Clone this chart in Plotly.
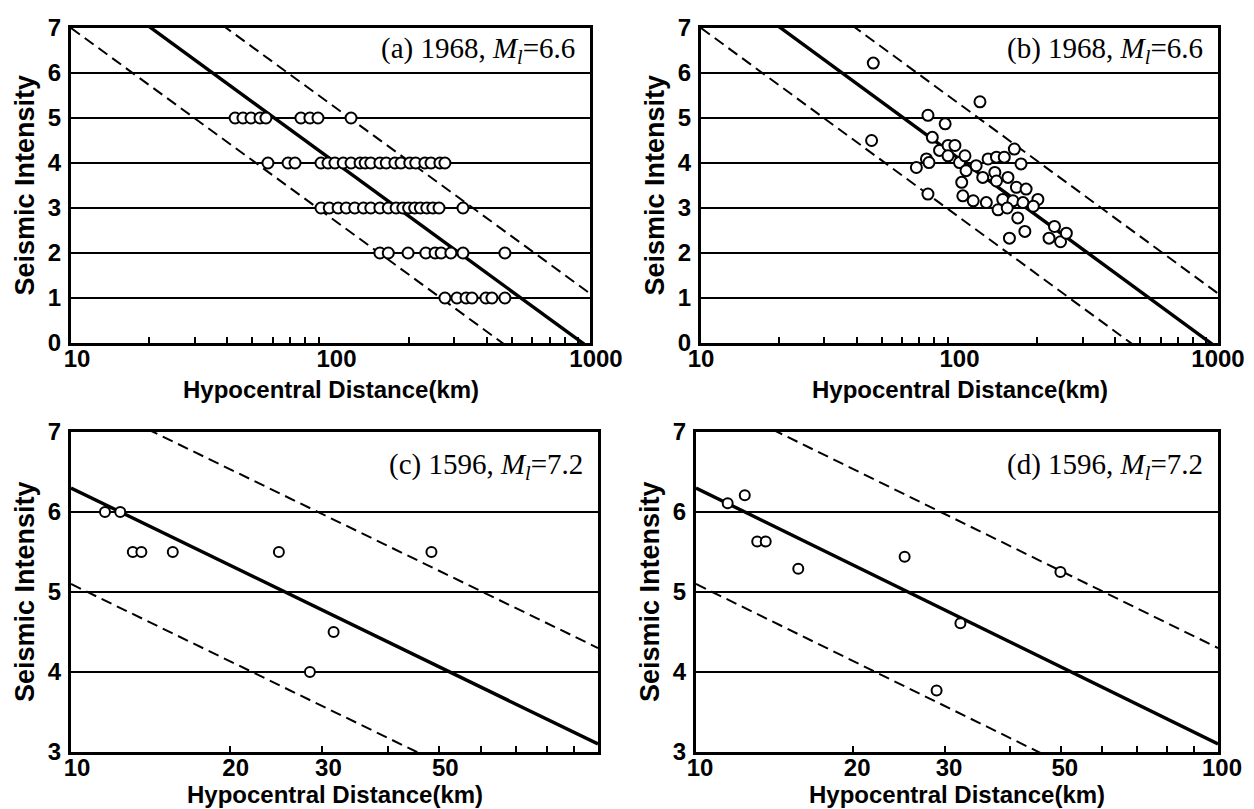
import plotly.graph_objects as go

# ---------------- data ----------------
# Panel (a): 1968, Ml=6.6 (intensity vs hypocentral distance, km)
A_DIST = [42.9, 46.0, 49.4, 53.5, 56.4, 76.9, 83.3, 89.5, 120,
          57.4, 68.6, 73.0, 91.9, 97.8, 104, 112, 120, 130, 136, 143, 155, 164, 177, 187, 202, 213, 231, 244, 264, 276,
          91.9, 98.9, 107, 115, 124, 134, 143, 155, 167, 179, 190, 200, 211, 222, 235, 248, 262, 324,
          155, 167, 199, 233, 253, 267, 291, 324, 470,
          276, 307, 333, 351, 397, 419, 470]
A_INT = [5, 5, 5, 5, 5, 5, 5, 5, 5,
         4, 4, 4, 4, 4, 4, 4, 4, 4, 4, 4, 4, 4, 4, 4, 4, 4, 4, 4, 4, 4,
         3, 3, 3, 3, 3, 3, 3, 3, 3, 3, 3, 3, 3, 3, 3, 3, 3, 3,
         2, 2, 2, 2, 2, 2, 2, 2, 2,
         1, 1, 1, 1, 1, 1, 1]

# Panel (b): 1968, Ml=6.6 (estimated intensities)
B_DIST = [46.4, 45.7, 75.5, 120, 88, 78.5, 83.7, 74.5, 76.2, 68.1, 75.5,
          90.3, 96, 90.3, 100, 105, 116, 129, 139, 149, 163, 173, 106, 102, 123, 137, 139, 154, 166, 181,
          103, 113, 127, 147, 161, 176, 201,
          141, 153, 168, 179, 156, 193, 233, 222, 246, 259]
B_INT = [6.22, 4.50, 5.06, 5.36, 4.87, 4.57, 4.28, 4.09, 4.01, 3.90, 3.31,
         4.39, 4.39, 4.16, 4.01, 4.16, 3.94, 4.09, 4.13, 4.13, 4.31, 3.98, 3.83, 3.57, 3.68, 3.79, 3.60, 3.68, 3.46, 3.42,
         3.27, 3.16, 3.12, 3.19, 3.16, 3.12, 3.19,
         2.96, 3.00, 2.78, 2.48, 2.33, 3.04, 2.59, 2.33, 2.25, 2.44]

# Panel (c): 1596, Ml=7.2
C_DIST = [11.6, 12.4, 13.1, 13.6, 15.6, 24.8, 48.3, 31.5, 28.4]
C_INT = [6.0, 6.0, 5.5, 5.5, 5.5, 5.5, 5.5, 4.5, 4.0]

# Panel (d): 1596, Ml=7.2
D_DIST = [11.5, 12.4, 13.1, 13.6, 15.7, 25.1, 49.9, 32.1, 28.9]
D_INT = [6.11, 6.21, 5.63, 5.63, 5.29, 5.44, 5.25, 4.61, 3.77]

# Attenuation lines (values at the ends of the distance range)
AB_LINE_DIST = [10, 1000]
AB_SOLID = [8.30, -0.12]
AB_UPPER = [9.52, 1.10]
AB_LOWER = [7.00, -1.42]

CD_LINE_DIST = [10, 100]
CD_SOLID = [6.30, 3.10]
CD_UPPER = [7.50, 4.30]
CD_LOWER = [5.10, 1.90]

AB_XTICKS = [10, 100, 1000]
AB_XMINOR = [20, 30, 40, 50, 60, 70, 80, 90, 200, 300, 400, 500, 600, 700, 800, 900]
C_XTICKS = [10, 20, 30, 50]
D_XTICKS = [10, 20, 30, 50, 100]
CD_XMINOR = [20, 30, 40, 50, 60, 70, 80, 90]

LABELS = ["(a) 1968, <i>M</i><sub><i>l</i></sub>=6.6",
          "(b) 1968, <i>M</i><sub><i>l</i></sub>=6.6",
          "(c) 1596, <i>M</i><sub><i>l</i></sub>=7.2",
          "(d) 1596, <i>M</i><sub><i>l</i></sub>=7.2"]

# ---------------- figure ----------------
W, H = 1254, 809
SANS = "Liberation Sans, Arial, sans-serif"
SERIF = "Liberation Serif, Times New Roman, serif"

# pixel boxes (left, right, top, bottom)
boxes = {
    1: (63, 582, 20, 335),
    2: (693, 1210, 20, 335),
    3: (63, 590, 424, 744),
    4: (688, 1210, 424, 744),
}
label_shift = {1: 6, 2: 0, 3: 6, 4: 4}

fig = go.Figure()

panels = [
    (1, A_DIST, A_INT, AB_LINE_DIST, AB_SOLID, AB_UPPER, AB_LOWER, 11),
    (2, B_DIST, B_INT, AB_LINE_DIST, AB_SOLID, AB_UPPER, AB_LOWER, 11),
    (3, C_DIST, C_INT, CD_LINE_DIST, CD_SOLID, CD_UPPER, CD_LOWER, 10),
    (4, D_DIST, D_INT, CD_LINE_DIST, CD_SOLID, CD_UPPER, CD_LOWER, 10),
]

for k, xd, yd, ld, ls, lu, ll, msize in panels:
    xa = "x" if k == 1 else f"x{k}"
    ya = "y" if k == 1 else f"y{k}"
    fig.add_trace(go.Scatter(x=ld, y=lu, mode="lines", xaxis=xa, yaxis=ya,
                             line=dict(color="black", width=2, dash="11px,6px"), showlegend=False))
    fig.add_trace(go.Scatter(x=ld, y=ll, mode="lines", xaxis=xa, yaxis=ya,
                             line=dict(color="black", width=2, dash="11px,6px"), showlegend=False))
    fig.add_trace(go.Scatter(x=ld, y=ls, mode="lines", xaxis=xa, yaxis=ya,
                             line=dict(color="black", width=3.4), showlegend=False))
    fig.add_trace(go.Scatter(x=xd, y=yd, mode="markers", xaxis=xa, yaxis=ya,
                             marker=dict(symbol="circle", size=msize, color="white",
                                         line=dict(color="black", width=2)),
                             showlegend=False, cliponaxis=False))

layout = dict(width=W, height=H, margin=dict(l=0, r=0, t=0, b=0, autoexpand=False), autosize=False,
              paper_bgcolor="white", plot_bgcolor="white", showlegend=False)

tickfont = dict(family=SANS, size=24, color="black", weight="bold")

for k, (l, r, t, b) in boxes.items():
    xname = "xaxis" if k == 1 else f"xaxis{k}"
    yname = "yaxis" if k == 1 else f"yaxis{k}"
    yanchor = "y" if k == 1 else f"y{k}"
    xanchor = "x" if k == 1 else f"x{k}"
    if k <= 2:
        xr = [1, 3]
        xt = AB_XTICKS
        minor = AB_XMINOR
        yr = [0, 7]
        yt = list(range(0, 8))
    else:
        xr = [1, 2]
        xt = C_XTICKS if k == 3 else D_XTICKS
        minor = CD_XMINOR
        yr = [3, 7]
        yt = list(range(3, 8))
    layout[xname] = dict(
        domain=[l / W, r / W], anchor=yanchor, type="log", range=xr, automargin=False,
        tickvals=xt, ticktext=[str(v) for v in xt], tickfont=tickfont,
        ticks="inside", ticklen=0, showgrid=False, zeroline=False,
        showline=True, linecolor="black", linewidth=3, mirror=True,
        ticklabelstandoff=-8, ticklabelshift=label_shift[k],
        minor=dict(tickvals=minor, ticks="inside", ticklen=6, tickwidth=2, tickcolor="black", showgrid=False),
        fixedrange=True,
    )
    layout[yname] = dict(
        domain=[1 - b / H, 1 - t / H], anchor=xanchor, range=yr, automargin=False,
        tickvals=yt, tickfont=tickfont, ticks="", showgrid=True,
        gridcolor="black", gridwidth=2, zeroline=False, ticklabelstandoff=2,
        showline=True, linecolor="black", linewidth=3, mirror=True, fixedrange=True,
    )

fig.update_layout(**layout)

annotations = []
label_y = [6.5, 6.5, 6.58, 6.58]
title_y = [381, 381, 786, 786]
for i, (k, (l, r, t, b)) in enumerate(boxes.items()):
    xs = "x" if k == 1 else f"x{k}"
    ys = "y" if k == 1 else f"y{k}"
    annotations.append(dict(text=LABELS[i], xref=f"{xs} domain", yref=ys, x=0.975, y=label_y[i],
                            xanchor="right", yanchor="middle", showarrow=False,
                            font=dict(family=SERIF, size=29, color="black")))
    # x axis title
    annotations.append(dict(text="Hypocentral Distance(km)", xref="paper", yref="paper",
                            x=((l + r) / 2) / W, y=1 - title_y[i] / H, xanchor="center", yanchor="middle",
                            showarrow=False, font=dict(family=SANS, size=24, color="black", weight="bold")))
    # y axis title
    annotations.append(dict(text="Seismic Intensity", xref="paper", yref="paper",
                            x=(l - 46) / W, y=1 - ((t + b) / 2) / H, xanchor="center", yanchor="middle",
                            textangle=-90, showarrow=False,
                            font=dict(family=SANS, size=27, color="black", weight="bold")))
fig.update_layout(annotations=annotations)

fig.write_html("out.html")
